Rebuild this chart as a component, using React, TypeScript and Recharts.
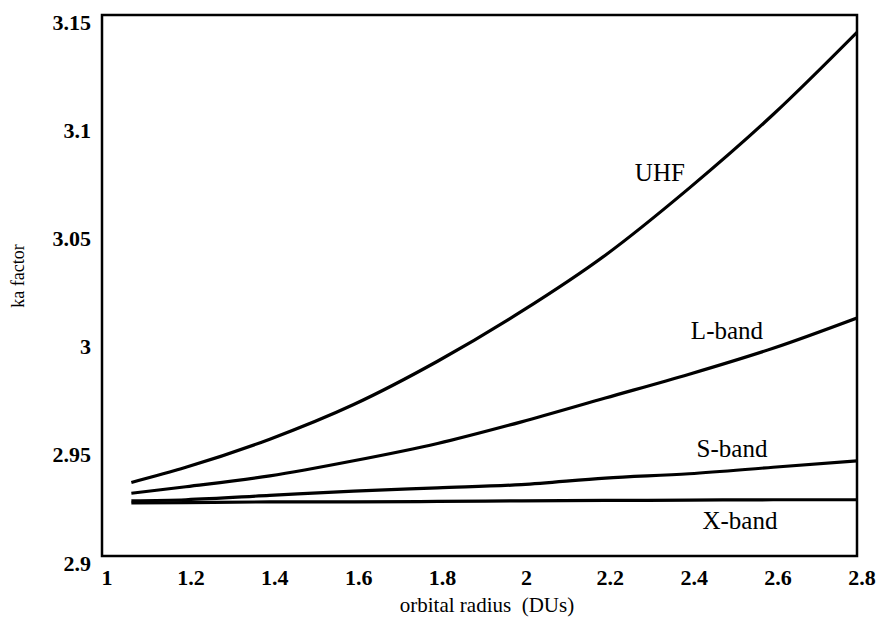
import React from 'react'
import { LineChart, Line, XAxis, YAxis, ReferenceArea, ReferenceDot } from 'recharts'

// orbital radius (DUs) sample points
const radius = [1.07, 1.2, 1.4, 1.6, 1.8, 2.0, 2.2, 2.4, 2.6, 2.8]

// ka factor per band
const uhf = [2.934, 2.941, 2.954, 2.970, 2.990, 3.013, 3.039, 3.070, 3.104, 3.142]
const lBand = [2.929, 2.932, 2.937, 2.944, 2.952, 2.962, 2.973, 2.984, 2.996, 3.010]
const sBand = [2.9255, 2.926, 2.928, 2.930, 2.9315, 2.933, 2.936, 2.938, 2.941, 2.944]
const xBand = [2.9245, 2.9247, 2.925, 2.925, 2.9252, 2.9255, 2.9257, 2.9258, 2.926, 2.926]

const xTicks = [1, 1.2, 1.4, 1.6, 1.8, 2, 2.2, 2.4, 2.6, 2.8]
const yTicks = [2.9, 2.95, 3, 3.05, 3.1, 3.15]

const bandNames = ['UHF', 'L-band', 'S-band', 'X-band']

const data = radius.map((r, i) => ({
  r,
  uhf: uhf[i],
  l: lBand[i],
  s: sBand[i],
  x: xBand[i],
}))

// where the curve names sit (data coords)
const labelSpots = [
  { x: 2.33, y: 3.0775 },
  { x: 2.49, y: 3.0044 },
  { x: 2.502, y: 2.950 },
  { x: 2.521, y: 2.9166 },
]

const FONT = '"Liberation Serif", "Times New Roman", serif'

const fmt = (v: number) => String(Number(v.toFixed(2)))

const XTick = (props: any) => {
  const { x, y, payload } = props
  return (
    <text x={x + 5} y={y + 13} textAnchor="middle" dominantBaseline="central"
      fontFamily={FONT} fontWeight="bold" fontSize={22} fill="#000">
      {fmt(payload.value)}
    </text>
  )
}

const YTick = (props: any) => {
  const { y, payload } = props
  return (
    <text x={91} y={y + 7} textAnchor="end" dominantBaseline="central"
      fontFamily={FONT} fontWeight="bold" fontSize={22} fill="#000">
      {fmt(payload.value)}
    </text>
  )
}

const XTitle = (props: any) => {
  const { viewBox } = props
  return (
    <text x={487} y={viewBox.y + 49} textAnchor="middle" dominantBaseline="central"
      fontFamily={FONT} fontSize={21} fill="#000">
      {'orbital radius\u00a0\u00a0(DUs)'}
    </text>
  )
}

const YTitle = () => (
  <text x={18} y={276} textAnchor="middle" dominantBaseline="central"
    transform="rotate(-90, 18, 276)" fontFamily={FONT} fontSize={18} fill="#000">
    ka factor
  </text>
)

export default function App() {
  return (
    <div style={{ position: 'absolute', left: 0, top: 0, background: '#fff' }}>
      <LineChart width={879} height={625} data={data}
        margin={{ top: 15, right: 22, left: 0, bottom: 0 }}>
        <XAxis dataKey="r" type="number" domain={[1, 2.8]} ticks={xTicks}
          axisLine={false} tickLine={false} height={69} tick={XTick}
          interval={0} allowDataOverflow label={<XTitle />} />
        <YAxis type="number" domain={[2.9, 3.15]} ticks={yTicks}
          axisLine={false} tickLine={false} width={102} tick={YTick}
          interval={0} allowDataOverflow label={<YTitle />} />
        <ReferenceArea x1={1} x2={2.8} y1={2.9} y2={3.15} fill="none"
          fillOpacity={0} stroke="#000" strokeWidth={2.5} />
        <Line dataKey="uhf" type="monotone" stroke="#000" strokeWidth={3.2} dot={false} isAnimationActive={false} />
        <Line dataKey="l" type="monotone" stroke="#000" strokeWidth={3.2} dot={false} isAnimationActive={false} />
        <Line dataKey="s" type="monotone" stroke="#000" strokeWidth={3.2} dot={false} isAnimationActive={false} />
        <Line dataKey="x" type="monotone" stroke="#000" strokeWidth={3.2} dot={false} isAnimationActive={false} />
        {bandNames.map((name, i) => (
          <ReferenceDot key={name} x={labelSpots[i].x} y={labelSpots[i].y} r={0}
            fill="none" stroke="none"
            label={{ value: name, position: 'center', fontFamily: FONT, fontSize: 25, fill: '#000' }} />
        ))}
      </LineChart>
    </div>
  )
}
